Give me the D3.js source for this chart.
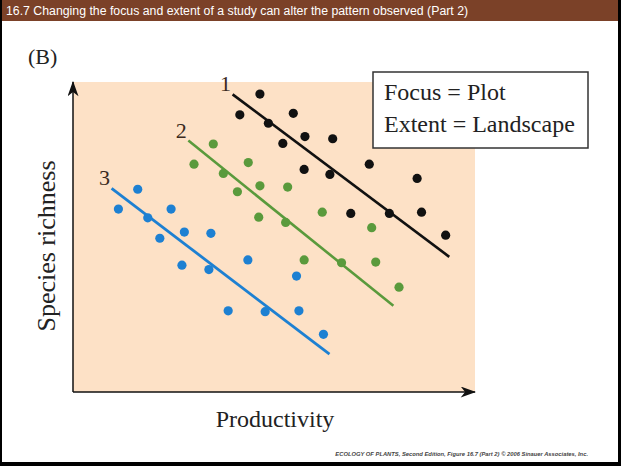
<!DOCTYPE html>
<html>
<head>
<meta charset="utf-8">
<script src="https://cdn.jsdelivr.net/npm/d3@7"></script>
<style>
  html, body { margin: 0; padding: 0; background: #fff; }
  svg { display: block; }
</style>
</head>
<body>
<script>
// ---- data (arbitrary units 0-100) ----
const seriesNames = ["1", "2", "3"];
const series1X = [46.5, 41.5, 48.6, 54.8, 57.7, 52.2, 64.6, 57.5, 63.9, 73.7, 85.6, 69.1, 78.7, 86.7, 92.7];
const series1Y = [96.1, 89.4, 86.7, 89.9, 82.4, 80.2, 81.7, 71.8, 70.2, 73.5, 68.9, 57.6, 57.6, 58.0, 50.6];
const series2X = [34.9, 30.1, 43.6, 37.4, 46.5, 53.4, 40.9, 46.2, 52.9, 62.0, 74.3, 57.5, 66.8, 75.3, 81.1];
const series2Y = [80.0, 73.5, 74.0, 70.5, 66.5, 66.1, 64.6, 56.4, 54.7, 58.0, 53.0, 42.6, 41.7, 41.9, 33.8];
const series3X = [16.1, 11.3, 18.6, 24.4, 21.6, 27.7, 34.3, 27.1, 33.8, 43.5, 55.6, 38.6, 47.8, 56.2, 62.3];
const series3Y = [65.4, 59.0, 56.2, 59.0, 49.6, 51.6, 51.2, 40.9, 39.5, 42.6, 37.4, 26.2, 25.9, 26.2, 18.6];
// fitted trend lines: [x0, y0, x1, y1]
const line1 = [39.7, 96.0, 93.6, 43.6];
const line2 = [28.7, 81.1, 79.7, 27.8];
const line3 = [9.6, 65.7, 63.8, 12.2];
const legendLines = ["Focus = Plot", "Extent = Landscape"];
const titleText = "16.7  Changing the focus and extent of a study can alter the pattern observed (Part 2)";
const panelLabel = "(B)";
const xLabel = "Productivity";
const yLabel = "Species richness";
const creditText = "ECOLOGY OF PLANTS, Second Edition, Figure 16.7 (Part 2)  \u00A9 2006 Sinauer Associates, Inc.";

// ---- layout ----
const W = 621, H = 466;
const plot = { left: 73, right: 475, top: 82, bottom: 392 };
const colors = { "1": "#111111", "2": "#5a9a3c", "3": "#1d80d2" };
const serif = "'Liberation Serif', 'Times New Roman', serif";

const svg = d3.select("body").append("svg").attr("width", W).attr("height", H);

// frame + title bar
svg.append("rect").attr("x", 0).attr("y", 0).attr("width", W).attr("height", H).attr("fill", "#000");
svg.append("rect").attr("x", 2).attr("y", 0).attr("width", W - 5).attr("height", H - 4).attr("fill", "#fff");
svg.append("rect").attr("x", 2).attr("y", 0).attr("width", W - 5).attr("height", 21).attr("fill", "#7b4128");
svg.append("text").attr("x", 6).attr("y", 15)
  .attr("font-family", "'Liberation Sans', Arial, sans-serif").attr("font-size", 12.3)
  .attr("fill", "#fff").text(titleText);

const x = d3.scaleLinear().domain([0, 100]).range([plot.left, plot.right]);
const y = d3.scaleLinear().domain([0, 100]).range([plot.bottom, plot.top]);

// peach background
svg.append("rect").attr("x", x(0)).attr("y", y(100))
  .attr("width", x(100) - x(0)).attr("height", y(0) - y(100)).attr("fill", "#fde1c6");

// axes with arrows
const defs = svg.append("defs");
defs.append("marker").attr("id", "arrow").attr("viewBox", "0 0 14 10")
  .attr("refX", 13).attr("refY", 5).attr("markerWidth", 16).attr("markerHeight", 11)
  .attr("markerUnits", "userSpaceOnUse").attr("orient", "auto")
  .append("path").attr("d", "M0,0 L14,5 L0,10 L4,5 Z").attr("fill", "#111");

svg.append("line").attr("x1", x(0)).attr("y1", y(0)).attr("x2", x(0)).attr("y2", y(100))
  .attr("stroke", "#111").attr("stroke-width", 1.5).attr("marker-end", "url(#arrow)");
svg.append("line").attr("x1", x(0)).attr("y1", y(0)).attr("x2", x(100)).attr("y2", y(0))
  .attr("stroke", "#111").attr("stroke-width", 1.5).attr("marker-end", "url(#arrow)");

// series
const allSeries = [
  { name: "1", xs: series1X, ys: series1Y, line: line1, lw: 2.6 },
  { name: "2", xs: series2X, ys: series2Y, line: line2, lw: 2.6 },
  { name: "3", xs: series3X, ys: series3Y, line: line3, lw: 2.8 }
];

allSeries.forEach(s => {
  const c = colors[s.name];
  svg.append("line")
    .attr("x1", x(s.line[0])).attr("y1", y(s.line[1]))
    .attr("x2", x(s.line[2])).attr("y2", y(s.line[3]))
    .attr("stroke", c).attr("stroke-width", s.lw);
  svg.append("g").selectAll("circle").data(d3.zip(s.xs, s.ys)).join("circle")
    .attr("cx", d => x(d[0])).attr("cy", d => y(d[1])).attr("r", 4.6).attr("fill", c);
  svg.append("text")
    .attr("x", x(s.line[0]) - 7).attr("y", y(s.line[1]) - 3)
    .attr("text-anchor", "middle")
    .attr("font-family", serif).attr("font-size", 22).attr("fill", "#3a2a20")
    .text(s.name);
});

// legend box
svg.append("rect").attr("x", 373).attr("y", 72).attr("width", 215).attr("height", 76)
  .attr("fill", "#fff").attr("stroke", "#333").attr("stroke-width", 1.5);
legendLines.forEach((t, i) => {
  svg.append("text").attr("x", 384).attr("y", 100 + i * 32)
    .attr("font-family", serif).attr("font-size", 24).attr("fill", "#222").text(t);
});

// labels
svg.append("text").attr("x", 28).attr("y", 64)
  .attr("font-family", serif).attr("font-size", 22).attr("fill", "#222").text(panelLabel);
svg.append("text").attr("x", (plot.left + plot.right) / 2 + 1).attr("y", 427)
  .attr("text-anchor", "middle").attr("font-family", serif).attr("font-size", 24)
  .attr("fill", "#222").text(xLabel);
svg.append("text").attr("transform", "translate(55,246) rotate(-90)")
  .attr("text-anchor", "middle").attr("font-family", serif).attr("font-size", 26)
  .attr("fill", "#222").text(yLabel);

// credit
svg.append("text").attr("x", 588).attr("y", 456).attr("text-anchor", "end")
  .attr("font-family", "'Liberation Sans', Arial, sans-serif").attr("font-size", 5.8)
  .attr("font-style", "italic").attr("font-weight", "bold").attr("fill", "#444")
  .text(creditText);
</script>
</body>
</html>
